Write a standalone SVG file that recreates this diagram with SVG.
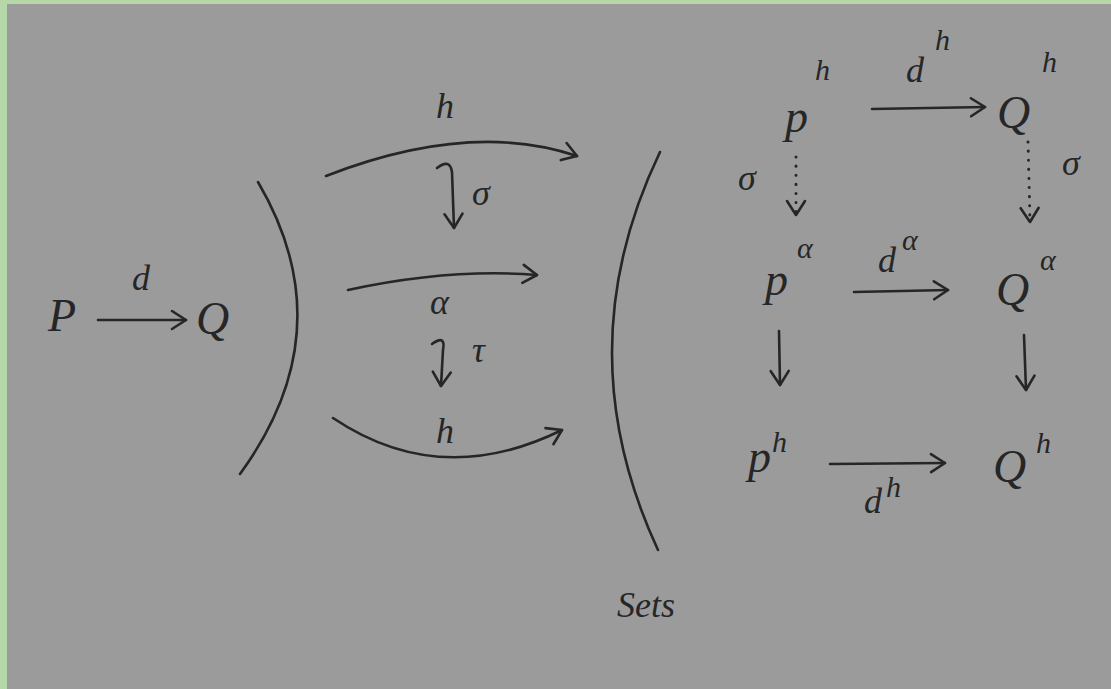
<svg xmlns="http://www.w3.org/2000/svg" width="1111" height="689" viewBox="0 0 1111 689">
<defs>
<marker id="ah" markerUnits="userSpaceOnUse" markerWidth="24" markerHeight="24" viewBox="0 0 24 24" refX="20" refY="12" orient="auto">
<path d="M6,3 L20,12 L6,21" fill="none" stroke="#262626" stroke-width="2.6" stroke-linecap="round" stroke-linejoin="round"/>
</marker>
</defs>
<style>
.ln{fill:none;stroke:#262626;stroke-width:2.6;stroke-linecap:round}
.dot{fill:none;stroke:#262626;stroke-width:3;stroke-linecap:round;stroke-dasharray:0.1 9}
.t{font-family:"Liberation Serif","DejaVu Serif",serif;font-style:italic;fill:#262626}
.big{font-size:46px}
.sm{font-size:36px}
.sup{font-size:30px}
</style>
<rect x="0" y="0" width="1111" height="689" fill="#b6d7a8"/>
<rect x="7" y="4" width="1104" height="685" fill="#9b9b9b"/>

<g id="P"><text class="t big" x="48" y="331">P</text></g>
<g id="Q"><text class="t big" x="196" y="334">Q</text></g>
<g id="bracket-left"><path class="ln" d="M258,182 Q345,330 240,474"/></g>
<g id="bracket-right"><path class="ln" d="M660,152 Q565,350 658,550"/></g>
<g id="Sets"><text class="t sm" x="617" y="617">Sets</text></g>

<g id="Ph-top"><text class="t big" x="785" y="132">p</text><text class="t sup" x="815" y="80">h</text></g>
<g id="Qh-top"><text class="t big" x="997" y="128">Q</text><text class="t sup" x="1042" y="72">h</text></g>
<g id="Pa"><text class="t big" x="765" y="295">p</text><text class="t sup" x="797" y="258">α</text></g>
<g id="Qa"><text class="t big" x="996" y="305">Q</text><text class="t sup" x="1040" y="270">α</text></g>
<g id="Ph-bot"><text class="t big" x="748" y="472">p</text><text class="t sup" x="772" y="452">h</text></g>
<g id="Qh-bot"><text class="t big" x="993" y="482">Q</text><text class="t sup" x="1036" y="453">h</text></g>

<g id="connectors">
<path class="ln" d="M98,320 L186,320" marker-end="url(#ah)"/>
<text class="t sm" x="132" y="290">d</text>

<path class="ln" d="M326,176 Q470,120 577,156" marker-end="url(#ah)"/>
<text class="t sm" x="436" y="118">h</text>
<path class="ln" d="M437,168 Q450,158 452,172 L454,228" marker-end="url(#ah)"/>
<text class="t sm" x="472" y="205">σ</text>

<path class="ln" d="M348,290 Q450,268 537,275" marker-end="url(#ah)"/>
<text class="t sm" x="430" y="314">α</text>
<path class="ln" d="M432,344 Q446,334 443,350 L441,386" marker-end="url(#ah)"/>
<text class="t sm" x="472" y="362">τ</text>

<path class="ln" d="M333,418 Q440,490 562,430" marker-end="url(#ah)"/>
<text class="t sm" x="436" y="443">h</text>

<path class="ln" d="M872,109 L985,107" marker-end="url(#ah)"/>
<text class="t sm" x="906" y="82">d</text><text class="t sup" x="935" y="50">h</text>
<path class="dot" d="M796,157 L796,215" marker-end="url(#ah)"/>
<text class="t sm" x="738" y="190">σ</text>
<path class="dot" d="M1028,142 L1030,222" marker-end="url(#ah)"/>
<text class="t sm" x="1062" y="175">σ</text>

<path class="ln" d="M854,292 L948,290" marker-end="url(#ah)"/>
<text class="t sm" x="878" y="272">d</text><text class="t sup" x="902" y="250">α</text>
<path class="ln" d="M779,331 L780,385" marker-end="url(#ah)"/>
<path class="ln" d="M1024,335 L1026,390" marker-end="url(#ah)"/>

<path class="ln" d="M830,464 L945,463" marker-end="url(#ah)"/>
<text class="t sm" x="864" y="513">d</text><text class="t sup" x="886" y="497">h</text>
</g>
</svg>
